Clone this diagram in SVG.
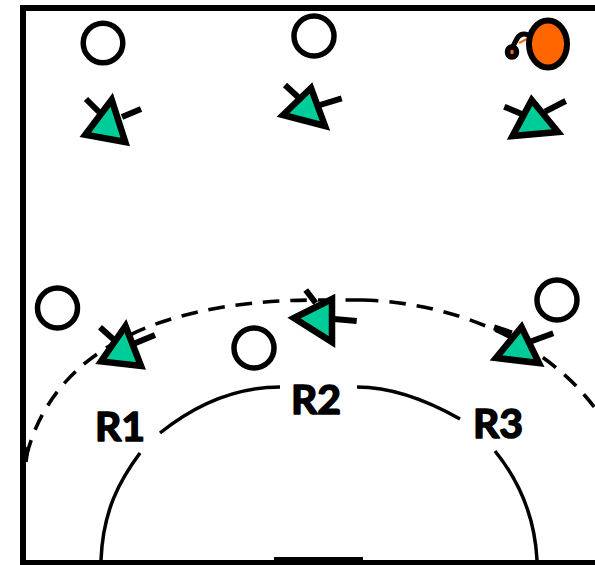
<svg xmlns="http://www.w3.org/2000/svg" width="595" height="565" viewBox="0 0 595 565">
<style>
.pl{fill:#fff;stroke:#000;stroke-width:5.500}
.tri{fill:#00cc99;stroke:#000;stroke-width:6.500;stroke-miterlimit:10}
.arm{fill:none;stroke:#000;stroke-width:6}
.arc{fill:none;stroke:#000;stroke-width:3.500}
.dash{fill:none;stroke:#000;stroke-width:3.600;stroke-dasharray:16.500 11}
.lab{font-family:Lato,"Open Sans",sans-serif;font-weight:700;font-size:41px;fill:#000;stroke:#000;stroke-width:1.600;stroke-linejoin:round}
</style>
<rect width="595" height="565" fill="#fff"/>
<g id="court">
<path d="M23 565V8H595" fill="none" stroke="#000" stroke-width="6"/>
<rect x="20" y="560" width="575" height="5"/>
<rect x="274" y="557" width="89" height="4"/>
</g>
<g id="connectors">
<path class="dash" d="M362 300L318 300C130 300 45 370 25 462"/>
<path class="dash" d="M362 300C445 302 540 335 595 408"/>
<path d="M28 447L26 462" class="arc"/>
<path id="inner-line" class="arc" d="M101 560C103 510 120 480 140 453M160 433C195 405 235 387 280 387M357 387C395 387 430 402 460 419M495 451C520 482 535 520 537 560"/>
</g>
<g id="o1"><circle class="pl" cx="103" cy="43" r="19.800"/></g>
<g id="o2"><circle class="pl" cx="314" cy="36" r="20"/></g>
<g id="o3"><circle class="pl" cx="57.500" cy="308" r="20"/></g>
<g id="o4"><circle class="pl" cx="254" cy="348" r="20"/></g>
<g id="o5"><circle class="pl" cx="557" cy="300" r="20"/></g>
<g id="ball">
<path d="M513 46C516 42 517 34 524 34C526 34 528 35 531 36" fill="none" stroke="#000" stroke-width="5"/>
<path d="M519 43L527 39" stroke="#ff6600" stroke-width="2"/>
<ellipse cx="512" cy="52" rx="4.500" ry="5" fill="#ff6600" stroke="#000" stroke-width="5.500"/>
<ellipse cx="548" cy="44" rx="19" ry="23.500" fill="#ff6600" stroke="#000" stroke-width="6"/>
</g>
<g id="x1"><path class="arm" d="M86 99L100 113M122 117L141 109"/><polygon class="tri" points="111.700,99.700 85.300,134.700 125.300,142"/></g>
<g id="x2"><path class="arm" d="M285 85L298 97M320 105L341.700 98.300"/><polygon class="tri" points="311,88 283,115 325,126"/></g>
<g id="x3"><path class="arm" d="M504.300 106.700L521.700 114M545 111.700L565.700 101"/><polygon class="tri" points="531.700,100 512.500,136 558,132"/></g>
<g id="x4"><path class="arm" d="M100 327.300L115 340.700M135 343.300L155 335"/><polygon class="tri" points="125.500,326 101,361.500 141,366"/></g>
<g id="x5"><path class="arm" d="M305.700 290L315.700 303M334 319L356.700 321"/><polygon class="tri" points="294,318 332,299 332,342"/></g>
<g id="x6"><path class="arm" d="M494 327.300L511.700 333.300M530 341.700L553.300 333.300"/><polygon class="tri" points="521.500,327 496,358 539,363"/></g>
<g id="labels">
<text class="lab" x="95" y="441">R1</text>
<text class="lab" x="291" y="414">R2</text>
<text class="lab" x="473" y="438">R3</text>
</g>
</svg>
